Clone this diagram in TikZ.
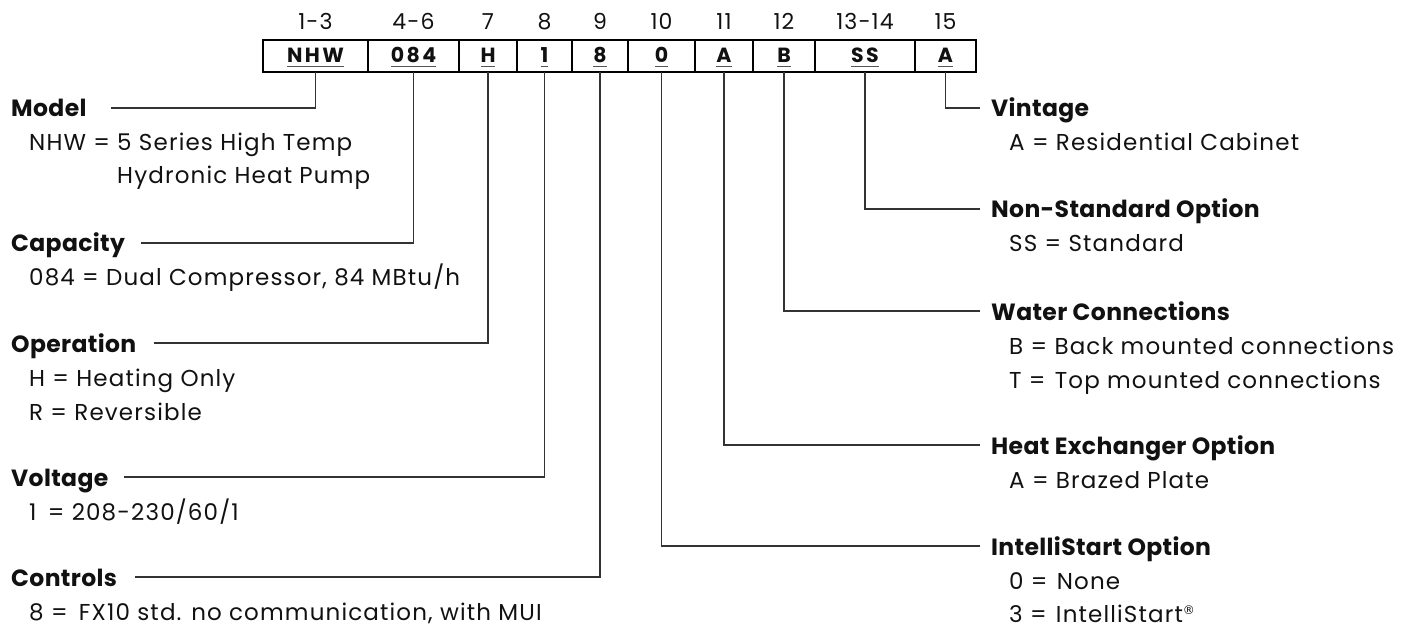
\documentclass[tikz,border=0pt]{standalone}
\usepackage{fontspec}
\setmainfont{Poppins}
\newfontfamily\descfont[LetterSpace=5]{Poppins}
\newfontfamily\boxfont[LetterSpace=12]{Poppins}
\newfontfamily\headfont[LetterSpace=1.5]{Poppins}
\newfontfamily\regfont{DejaVu Sans}
\usetikzlibrary{calc}
\definecolor{ink}{HTML}{111111}
\definecolor{leadc}{HTML}{333333}
\definecolor{ulc}{HTML}{555555}
\newcommand\boxul[1]{\setbox0\hbox{#1}\rlap{\textcolor{ulc}{\rule[-4.5pt]{\wd0}{1.5pt}}}\box0}
\newcommand\regmark{\raisebox{8pt}{\regfont\fontsize{12}{12}\selectfont ®}}
\begin{document}
\begin{tikzpicture}[x=1pt,y=-1pt,
  codebox/.style={draw=black, line width=2.6pt, minimum height=32pt, inner sep=0pt, outer sep=0pt,
    font=\boxfont\fontsize{20.5}{22}\selectfont\bfseries, text height=14pt, text depth=0pt, text=ink},
  posnum/.style={anchor=base, inner sep=0pt, font=\descfont\fontsize{22}{24}\selectfont, text=ink},
  head/.style={anchor=base west, inner sep=0pt, font=\headfont\fontsize{23.5}{26}\selectfont\bfseries, text height=18pt, text depth=0pt, text=ink},
  desc/.style={anchor=base west, inner sep=0pt, font=\descfont\fontsize{23}{26}\selectfont, text=ink},
  leader/.style={draw=leadc, line width=1.3pt}]
\useasboundingbox (0,0) rectangle (1414,631);
% code boxes
\node[codebox, minimum width=105pt] (b1) at (315.5,56) {\boxul{NHW}};
\node[codebox, minimum width=91pt] (b2) at (413.5,56) {\boxul{084}};
\node[codebox, minimum width=58pt] (b3) at (488,56) {\boxul{H}};
\node[codebox, minimum width=55pt] (b4) at (544.5,56) {\boxul{1}};
\node[codebox, minimum width=56pt] (b5) at (600,56) {\boxul{8}};
\node[codebox, minimum width=67pt] (b6) at (661.5,56) {\boxul{0}};
\node[codebox, minimum width=58pt] (b7) at (724,56) {\boxul{A}};
\node[codebox, minimum width=62pt] (b8) at (784,56) {\boxul{B}};
\node[codebox, minimum width=100pt] (b9) at (865,56) {\boxul{SS}};
\node[codebox, minimum width=61pt] (b10) at (945.5,56) {\boxul{A}};
% position numbers
\node[posnum] (p1) at (315.5,30) {1-3};
\node[posnum] (p2) at (413.5,30) {4-6};
\node[posnum] (p3) at (488,30) {7};
\node[posnum] (p4) at (544.5,30) {8};
\node[posnum] (p5) at (600,30) {9};
\node[posnum] (p6) at (661.5,30) {10};
\node[posnum] (p7) at (724,30) {11};
\node[posnum] (p8) at (784,30) {12};
\node[posnum] (p9) at (865,30) {13-14};
\node[posnum] (p10) at (945.5,30) {15};
% left side
\node[head] (model) at (11,117) {Model};
\node[desc] (model1) at (29,151) {NHW = 5 Series High Temp};
\node[desc] (model2) at (29,184) {\phantom{NHW = }Hydronic Heat Pump};
\node[head] (cap) at (11,252) {Capacity};
\node[desc] (cap1) at (29,286) {084 = Dual Compressor, 84 MBtu/h};
\node[head] (oper) at (11,352) {Operation};
\node[desc] (oper1) at (29,386) {H = Heating Only};
\node[desc] (oper2) at (29,420) {R = Reversible};
\node[head] (volt) at (11,486) {Voltage};
\node[desc] (volt1) at (29,520) {1\hspace{4pt} = 208-230/60/1};
\node[head] (ctrl) at (11,586) {Controls};
\node[desc] (ctrl1) at (29,620) {8 = \hspace{4pt}FX10 std. no communication, with MUI};
% right side
\node[head] (vint) at (991,117) {Vintage};
\node[desc] (vint1) at (1009,151) {A = Residential Cabinet};
\node[head] (nonstd) at (991,218) {Non-Standard Option};
\node[desc] (nonstd1) at (1009,252) {SS = Standard};
\node[head] (water) at (991,320) {Water Connections};
\node[desc] (water1) at (1009,354) {B = Back mounted connections};
\node[desc] (water2) at (1009,388) {T = \hspace{2pt}Top mounted connections};
\node[head] (hx) at (991,454) {Heat Exchanger Option};
\node[desc] (hx1) at (1009,488) {A = Brazed Plate};
\node[head] (istart) at (991,555) {IntelliStart Option};
\node[desc] (istart1) at (1009,589) {0 = \hspace{2pt}None};
\node[desc] (istart2) at (1009,622) {3 = \hspace{2pt}IntelliStart\regmark};
% leaders
\draw[leader] (b1.south) |- ([xshift=24pt]model.east);
\draw[leader] (b2.south) |- ([xshift=16pt]cap.east);
\draw[leader] (b3.south) |- ([xshift=18pt]oper.east);
\draw[leader] (b4.south) |- ([xshift=15pt]volt.east);
\draw[leader] (b5.south) |- ([xshift=18pt]ctrl.east);
\draw[leader] (b10.south) |- ([xshift=-11pt]vint.west);
\draw[leader] (b9.south) |- ([xshift=-11pt]nonstd.west);
\draw[leader] (b8.south) |- ([xshift=-11pt]water.west);
\draw[leader] (b7.south) |- ([xshift=-11pt]hx.west);
\draw[leader] (b6.south) |- ([xshift=-11pt]istart.west);
\end{tikzpicture}
\end{document}
